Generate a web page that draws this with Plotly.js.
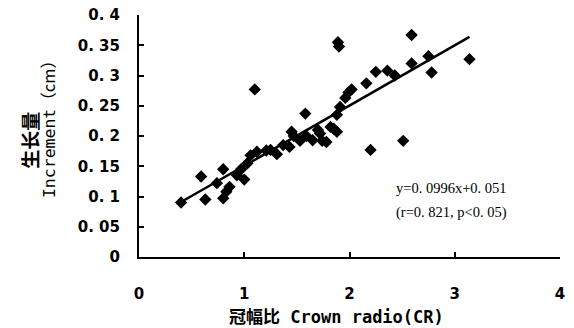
<!DOCTYPE html>
<html>
<head>
<meta charset="utf-8">
<script src="https://cdn.plot.ly/plotly-3.0.1.min.js"></script>
<style>html,body{margin:0;padding:0;background:#fff;}#chart{width:574px;height:328px;}</style>
</head>
<body>
<div id="chart"></div>
<script>
// Crown ratio (x) and increment (y)
const crownRatio = [0.40,0.59,0.63,0.74,0.80,0.80,0.83,0.86,0.93,0.97,1.00,1.03,1.06,1.10,1.12,1.21,1.25,1.31,1.37,1.43,1.45,1.47,1.53,1.58,1.59,1.65,1.70,1.72,1.74,1.78,1.82,1.85,1.88,1.88,1.89,1.90,1.91,1.96,1.99,2.02,2.16,2.20,2.25,2.36,2.43,2.51,2.59,2.59,2.75,2.78,3.14];
const increment  = [0.090,0.133,0.095,0.122,0.097,0.145,0.108,0.116,0.135,0.145,0.128,0.155,0.168,0.277,0.174,0.176,0.177,0.170,0.185,0.182,0.207,0.200,0.192,0.237,0.200,0.193,0.210,0.204,0.192,0.190,0.215,0.212,0.207,0.235,0.355,0.348,0.248,0.263,0.272,0.277,0.287,0.177,0.306,0.308,0.300,0.192,0.367,0.320,0.332,0.305,0.327];
// regression y = 0.0996x + 0.051
const slope = 0.0996, intercept = 0.051;
const fitX = [0.40, 3.14];
const fitY = fitX.map(x => slope * x + intercept);
const yTickVals = [0,0.05,0.1,0.15,0.2,0.25,0.3,0.35,0.4];
const yTickText = ["0","0. 05","0. 1","0. 15","0. 2","0. 25","0. 3","0. 35","0. 4"];
const xTickVals = [0,1,2,3,4];
const xTickText = ["0","1","2","3","4"];

const tickFont = {family: "DejaVu Sans, Noto Sans", size: 15, color: "#000", weight: 700};
const mono = "DejaVu Sans Mono";
const cjk = "Noto Sans CJK SC";

const data = [
  {x: crownRatio, y: increment, type: "scatter", mode: "markers",
   marker: {symbol: "diamond", size: 9.5, color: "#000"}, showlegend: false, hoverinfo: "none"},
  {x: fitX, y: fitY, type: "scatter", mode: "lines",
   line: {color: "#000", width: 2.5}, showlegend: false, hoverinfo: "none"}
];

const layout = {
  width: 574, height: 328,
  margin: {l: 139, r: 14, t: 15, b: 71},
  paper_bgcolor: "#fff", plot_bgcolor: "#fff",
  xaxis: {range: [0, 4], tickvals: xTickVals, ticktext: xTickText, showgrid: false, zeroline: false,
          showline: true, linecolor: "#000", linewidth: 2, ticks: "inside", ticklen: 5, tickwidth: 2, tickcolor: "#000",
          tickfont: tickFont, ticklabelstandoff: 22},
  yaxis: {range: [0, 0.4], tickvals: yTickVals, ticktext: yTickText, showgrid: false, zeroline: false,
          showline: true, linecolor: "#000", linewidth: 2, ticks: "inside", ticklen: 5, tickwidth: 2, tickcolor: "#000",
          tickfont: tickFont, ticklabelstandoff: 14},
  annotations: [
    {text: "y=0. 0996x+0. 051", xref: "paper", yref: "paper", x: 0.743, y: 0.285, xanchor: "center", yanchor: "middle", showarrow: false,
     font: {family: "Liberation Serif, DejaVu Serif", size: 14.5, color: "#000"}},
    {text: "(r=0. 821, p&lt;0. 05)", xref: "paper", yref: "paper", x: 0.743, y: 0.182, xanchor: "center", yanchor: "middle", showarrow: false,
     font: {family: "Liberation Serif, DejaVu Serif", size: 14.5, color: "#000"}},
    {text: "<span style='font-family:" + cjk + "'>冠幅比</span> <span style='font-family:" + mono + "'>Crown radio(CR)</span>",
     xref: "paper", yref: "paper", x: 0.468, y: -0.24, xanchor: "center", yanchor: "middle", showarrow: false,
     font: {family: mono, size: 17, color: "#000", weight: 700}},
    {text: "生长量", xref: "paper", yref: "paper", x: 0, y: 0.48, xshift: -109, xanchor: "center", yanchor: "middle", showarrow: false, textangle: -90,
     font: {family: cjk, size: 19, color: "#000", weight: 700}},
    {text: "<span style='font-family:" + mono + "'>Increment</span><span style='font-family:" + cjk + "'>（cm）</span>",
     xref: "paper", yref: "paper", x: 0, y: 0.545, xshift: -91, xanchor: "center", yanchor: "middle", showarrow: false, textangle: -90,
     font: {family: mono, size: 16.5, color: "#000"}}
  ]
};

Plotly.newPlot("chart", data, layout, {staticPlot: true, displayModeBar: false});
</script>
</body>
</html>
